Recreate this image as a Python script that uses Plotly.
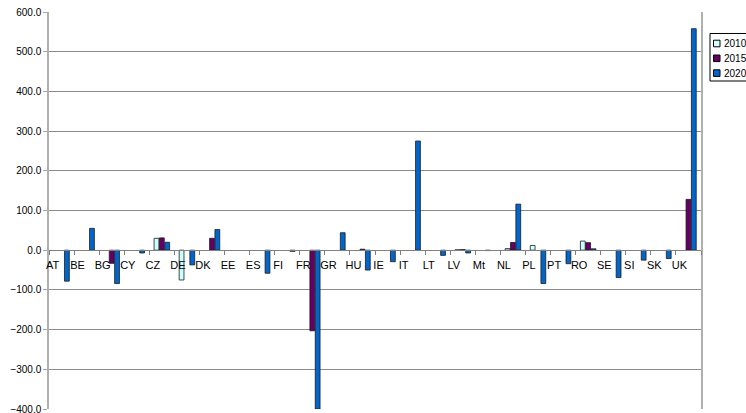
import plotly.graph_objects as go

# Member-state codes along the category axis
countries = ["AT", "BE", "BG", "CY", "CZ", "DE", "DK", "EE", "ES", "FI", "FR", "GR", "HU",
             "IE", "IT", "LT", "LV", "Mt", "NL", "PL", "PT", "RO", "SE", "SI", "SK", "UK"]

# Series values per country (None = no value reported)
v2010 = [None, None, None, None, 30, -75, None, None, None, None, None, None, None,
         None, None, None, 1, None, 4, 12, None, 23, None, None, None, None]
v2015 = [None, None, -33, None, 31, None, 30, None, None, None, -203, None, 2.5,
         None, None, None, 1.5, -1, 19.5, None, None, 19, None, None, None, 128]
v2020 = [-78, 55, -84, -7, 20, -37, 52, None, -58, -3, -400, 44, -50,
         -29, 275, -13, -7, None, 116, -84, -34, 3.5, -69, -25, -21, 558]

series_names = ["2010", "2015", "2020"]
series_values = [v2010, v2015, v2020]
series_colors = ["#CCFFFF", "#660066", "#0066CC"]

y_ticks = [-400, -300, -200, -100, 0, 100, 200, 300, 400, 500, 600]

FONT = "Liberation Sans, Arial, sans-serif"
W, H = 746, 413
M_L, M_R, M_T, M_B = 49, 45, 12, 4
PLOT_W = W - M_L - M_R
PLOT_H = H - M_T - M_B


def paper_x(px):
    return (px - M_L) / PLOT_W


def paper_y(py):
    return (H - M_B - py) / PLOT_H


fig = go.Figure()
for name, vals, col in zip(series_names, series_values, series_colors):
    fig.add_trace(go.Bar(
        x=countries, y=vals, name=name,
        marker=dict(color=col, line=dict(color="#1a1a1a", width=0.8)),
        showlegend=False,
    ))

y_min, y_max = y_ticks[0], y_ticks[-1]
zero_pos = (0 - y_min) / (y_max - y_min)

fig.update_layout(
    width=W, height=H,
    margin=dict(l=M_L, r=M_R, t=M_T, b=M_B, autoexpand=False),
    paper_bgcolor="white", plot_bgcolor="white",
    barmode="group", bargap=0.36, bargroupgap=0.1,
    font=dict(family=FONT, size=11, color="#000000"),
    xaxis=dict(
        type="category", anchor="free", position=zero_pos, automargin=False,
        showline=True, linecolor="#808080", linewidth=1,
        ticks="outside", tickson="boundaries", ticklen=4, tickcolor="#808080",
        showgrid=False, tickangle=0, ticklabelshift=-9, ticklabelstandoff=5,
        tickfont=dict(family=FONT, size=11, color="#000000"),
    ),
    yaxis=dict(
        range=[y_min, y_max], tickvals=y_ticks, tickformat=".1f", automargin=False,
        showgrid=True, gridcolor="#8c8c8c", gridwidth=1,
        zeroline=False,
        showline=True, linecolor="#b0b0b0", linewidth=1.5, mirror=True,
        ticks="outside", ticklen=4, tickcolor="#a6a6a6",
        ticklabeloverflow="allow",
        tickfont=dict(family=FONT, size=10, color="#000000"),
    ),
)

# Boxed legend at the right edge
box_left, box_top, box_bottom = 710, 33.5, 81
fig.add_shape(type="rect", xref="paper", yref="paper",
              x0=paper_x(box_left), x1=paper_x(W + 10),
              y0=paper_y(box_bottom), y1=paper_y(box_top),
              line=dict(color="#000000", width=1), fillcolor="white")
row_y0, row_step = 43.5, 14.8
for i, (name, col) in enumerate(zip(series_names, series_colors)):
    cy = row_y0 + i * row_step
    fig.add_shape(type="rect", xref="paper", yref="paper",
                  x0=paper_x(713.5), x1=paper_x(720),
                  y0=paper_y(cy + 3.3), y1=paper_y(cy - 3.3),
                  line=dict(color="#000000", width=1), fillcolor=col)
    fig.add_annotation(x=paper_x(721.5), y=paper_y(cy), xref="paper", yref="paper",
                       text=name, showarrow=False, xanchor="left", yanchor="middle",
                       font=dict(family=FONT, size=10, color="#000000"))

fig.write_html("out.html")
